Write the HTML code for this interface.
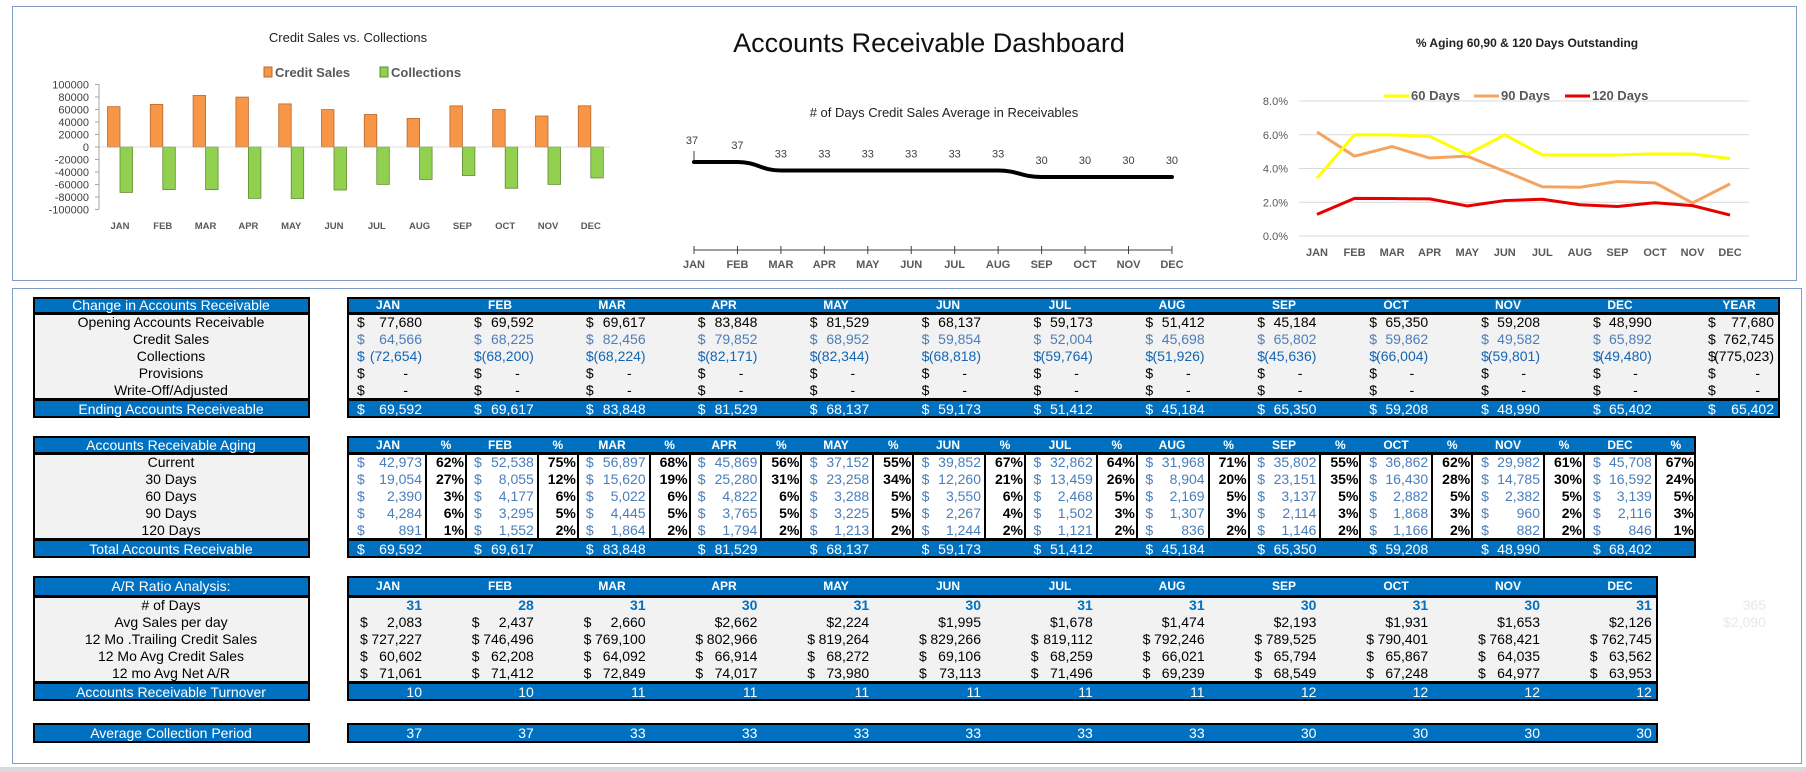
<!DOCTYPE html>
<html><head><meta charset="utf-8">
<style>
html,body{margin:0;padding:0;background:#fff;}
#root{position:relative;width:1806px;height:772px;overflow:hidden;font-family:"Liberation Sans Narrow","Liberation Sans",sans-serif;}
.abs{position:absolute;box-sizing:border-box;}
.t{position:absolute;white-space:nowrap;font-size:14px;line-height:17px;}
svg text{font-family:"Liberation Sans",sans-serif;}
</style></head>
<body>
<div id="root">
<div class="abs" style="left:12px;top:6px;width:1785px;height:275px;border:1.5px solid #7f9cc6;"></div>
<div class="abs" style="left:12px;top:288px;width:1790px;height:476px;border:1.5px solid #7f9cc6;"></div>
<div class="abs" style="left:0;top:767px;width:1806px;height:5px;background:#d9d9d9;"></div>
<svg id="charts" width="1806" height="290" style="position:absolute;left:0;top:0;">
<text x="929" y="52" text-anchor="middle" font-size="27" fill="#111">Accounts Receivable Dashboard</text>
</svg>
<div id="tables"></div>
</div>
<script>
const months=['JAN','FEB','MAR','APR','MAY','JUN','JUL','AUG','SEP','OCT','NOV','DEC'];
const opening=[77680,69592,69617,83848,81529,68137,59173,51412,45184,65350,59208,48990];
const creditSales=[64566,68225,82456,79852,68952,59854,52004,45698,65802,59862,49582,65892];
const collections=[-72654,-68200,-68224,-82171,-82344,-68818,-59764,-51926,-45636,-66004,-59801,-49480];
const endingAR=[69592,69617,83848,81529,68137,59173,51412,45184,65350,59208,48990,65402];
const yearVals=[77680,762745,-775023,65402];
const agCurrent=[42973,52538,56897,45869,37152,39852,32862,31968,35802,36862,29982,45708];
const pcCurrent=[62,75,68,56,55,67,64,71,55,62,61,67];
const ag30=[19054,8055,15620,25280,23258,12260,13459,8904,23151,16430,14785,16592];
const pc30=[27,12,19,31,34,21,26,20,35,28,30,24];
const ag60=[2390,4177,5022,4822,3288,3550,2468,2169,3137,2882,2382,3139];
const pc60=[3,6,6,6,5,6,5,5,5,5,5,5];
const ag90=[4284,3295,4445,3765,3225,2267,1502,1307,2114,1868,960,2116];
const pc90=[6,5,5,5,5,4,3,3,3,3,2,3];
const ag120=[891,1552,1864,1794,1213,1244,1121,836,1146,1166,882,846];
const pc120=[1,2,2,2,2,2,2,2,2,2,2,1];
const agTotal=[69592,69617,83848,81529,68137,59173,51412,45184,65350,59208,48990,68402];
const daysInMonth=[31,28,31,30,31,30,31,31,30,31,30,31];
const avgSalesDay=[2083,2437,2660,2662,2224,1995,1678,1474,2193,1931,1653,2126];
const trailing12=[727227,746496,769100,802966,819264,829266,819112,792246,789525,790401,768421,762745];
const avg12Credit=[60602,62208,64092,66914,68272,69106,68259,66021,65794,65867,64035,63562];
const avgNetAR=[71061,71412,72849,74017,73980,73113,71496,69239,68549,67248,64977,63953];
const turnover=[10,10,11,11,11,11,11,11,12,12,12,12];
const collectionPeriod=[37,37,33,33,33,33,33,33,30,30,30,30];
const pct60=[3.43,6.0,5.99,5.91,4.83,6.0,4.8,4.8,4.8,4.87,4.86,4.59];
const pct90=[6.16,4.73,5.3,4.62,4.73,3.83,2.92,2.89,3.23,3.15,1.96,3.09];
const pct120=[1.28,2.23,2.22,2.2,1.78,2.1,2.18,1.85,1.75,1.97,1.8,1.24];
const yTicks1=[100000,80000,60000,40000,20000,0,-20000,-40000,-60000,-80000,-100000];
const yTicks3=[0,2,4,6,8];

const NS='http://www.w3.org/2000/svg';
const svg=document.getElementById('charts');
function sv(tag,attrs,name){const e=document.createElementNS(NS,tag);for(const k in attrs)e.setAttribute(k,attrs[k]);


svg.appendChild(e);return e;}
function st(x,y,s,attrs,name){const e=sv('text',Object.assign({x:x,y:y},attrs),name);e.textContent=s;return e;}

// ---- Chart 1: Credit Sales vs Collections
const c1x=k=>120+k*42.8, c1y=v=>147-v*62.5/100000;
st(348,42,'Credit Sales vs. Collections',{'text-anchor':'middle','font-size':13,fill:'#222'},'chart1-title');
sv('rect',{x:264,y:67,width:8,height:10,fill:'#F79646',stroke:'#b8682e'},'legend-credit-swatch');
st(275,77,'Credit Sales',{'font-size':13,'font-weight':'bold',fill:'#595959'},'legend-credit-sales');
sv('rect',{x:380,y:67,width:8,height:10,fill:'#92D050',stroke:'#5f8c2f'},'legend-collections-swatch');
st(391,77,'Collections',{'font-size':13,'font-weight':'bold',fill:'#595959'},'legend-collections');
sv('line',{x1:99,y1:c1y(100000),x2:99,y2:c1y(-100000),stroke:'#a6a6a6'},'chart1-y-axis');
yTicks1.forEach(v=>{st(89,c1y(v)+4,String(v),{'text-anchor':'end','font-size':11,fill:'#404040'},'y-tick-label');
sv('line',{x1:95,y1:c1y(v),x2:99,y2:c1y(v),stroke:'#a6a6a6'},'y-tick');});
months.forEach((m,k)=>{const c=c1x(k);
sv('rect',{x:c-12.5,y:c1y(creditSales[k]),width:12.5,height:c1y(0)-c1y(creditSales[k]),fill:'#F79646',stroke:'#b8682e','stroke-width':0.8},'bar-credit-'+m.toLowerCase());
sv('rect',{x:c,y:c1y(0),width:12.5,height:c1y(collections[k])-c1y(0),fill:'#92D050',stroke:'#5f8c2f','stroke-width':0.8},'bar-collections-'+m.toLowerCase());
st(c,229,m,{'text-anchor':'middle','font-size':9.5,'font-weight':'bold',fill:'#595959'},'x-label');});
sv('line',{x1:99,y1:c1y(0),x2:610,y2:c1y(0),stroke:'#bfbfbf','stroke-width':0.6},'chart1-zero-line');

// ---- Chart 2: days line
const c2x=k=>694+k*43.45, c2y=v=>162+(37-v)*2.14;
st(944,117,'# of Days Credit Sales Average in Receivables',{'text-anchor':'middle','font-size':13,fill:'#222'},'chart2-title');
sv('line',{x1:c2x(0),y1:250,x2:c2x(11),y2:250,stroke:'#404040','stroke-width':1},'chart2-x-axis');
let d='M'+c2x(0)+','+c2y(collectionPeriod[0]);
months.forEach((m,k)=>{
sv('line',{x1:c2x(k),y1:246,x2:c2x(k),y2:254,stroke:'#404040'},'x-tick');
st(c2x(k),268,m,{'text-anchor':'middle','font-size':11,'font-weight':'bold',fill:'#595959'},'x-label');
const ly=c2y(collectionPeriod[k])-13-(k===0?5:0);
st(c2x(k)+(k===0?-2:0),ly,String(collectionPeriod[k]),{'text-anchor':'middle','font-size':11,fill:'#404040'},'data-label');
if(k>0){const x0=c2x(k-1),x1=c2x(k),y0=c2y(collectionPeriod[k-1]),y1=c2y(collectionPeriod[k]);
d+=' C'+(x0+(x1-x0)/2.2)+','+y0+' '+(x1-(x1-x0)/2.2)+','+y1+' '+x1+','+y1;}});
sv('line',{x1:c2x(0),y1:c2y(collectionPeriod[0])-11,x2:c2x(0),y2:c2y(collectionPeriod[0]),stroke:'#404040'},'label-leader');
sv('path',{d:d,fill:'none',stroke:'#000','stroke-width':4,'stroke-linecap':'round'},'days-line');

// ---- Chart 3: aging %
const c3x=k=>1317+k*37.55, c3y=p=>236-p*135/8;
st(1527,47,'% Aging 60,90 & 120 Days Outstanding',{'text-anchor':'middle','font-size':12,'font-weight':'bold',fill:'#222'},'chart3-title');
yTicks3.forEach(p=>{sv('line',{x1:1299,y1:c3y(p),x2:1749,y2:c3y(p),stroke:'#d9d9d9'},'gridline');
st(1288,c3y(p)+4,p.toFixed(1)+'%',{'text-anchor':'end','font-size':11,fill:'#595959'},'y-tick-label');});
months.forEach((m,k)=>st(c3x(k),256,m,{'text-anchor':'middle','font-size':11,'font-weight':'bold',fill:'#595959'},'x-label'));
function series(arr,col,name){sv('polyline',{points:arr.map((p,k)=>c3x(k)+','+c3y(p)).join(' '),fill:'none',stroke:col,'stroke-width':3,'stroke-linejoin':'round'},name);}
series(pct90,'#F4A460','line-90-days');
series(pct60,'#FFFF00','line-60-days');
series(pct120,'#E80000','line-120-days');
[[1384,'#FFFF00','60 Days','legend-60-days'],[1474,'#F4A460','90 Days','legend-90-days'],[1565,'#E80000','120 Days','legend-120-days']].forEach(a=>{
sv('line',{x1:a[0],y1:96,x2:a[0]+25,y2:96,stroke:a[1],'stroke-width':3},a[3]+'-line');
st(a[0]+27,100,a[2],{'font-size':13,'font-weight':'bold',fill:'#595959'},a[3]);});

// ---- Tables
const root=document.getElementById('tables');
function box(x,y,w,h,bg,name){const e=document.createElement('div');e.className='abs';
e.style.cssText='left:'+x+'px;top:'+y+'px;width:'+w+'px;height:'+h+'px;background:'+bg+';border:2px solid #000;';


root.appendChild(e);return e;}
function vline(x,y,h,name){const e=document.createElement('div');e.className='abs';
e.style.cssText='left:'+x+'px;top:'+y+'px;width:2px;height:'+h+'px;background:#000;';


root.appendChild(e);}
function txt(s,x,yc,align,color,name,bold,size){const e=document.createElement('div');e.className='t';e.textContent=s;
e.style.top=(yc-8.5)+'px';e.style.color=color;if(bold)e.style.fontWeight='bold';if(size)e.style.fontSize=size+'px';
if(align==='r'){e.style.right=(1806-x)+'px';}else if(align==='c'){e.style.left=(x-100)+'px';e.style.width='200px';e.style.textAlign='center';}else{e.style.left=x+'px';}


root.appendChild(e);}
const fmt=n=>{const s=Math.abs(n).toLocaleString('en-US');return n<0?'('+s+')':s;};
const xd=k=>k===0?357:474+(k-1)*111.9, xr=k=>422+k*111.8, hc=k=>388+k*112;
const RH=17.2;

// Table 1
box(33,297,277,17,'#0070C0','change-ar-header');
box(33,313,277,87,'#F2F2F2','change-ar-labels');
box(33,399,277,19,'#0070C0','ending-ar-label-bar');
box(347,297,1433,17,'#0070C0','change-ar-month-header');
box(347,313,1433,87,'#F2F2F2','change-ar-values');
box(347,399,1433,19,'#0070C0','ending-ar-values-bar');
txt('Change in Accounts Receivable',171,305,'c','#fff','change-ar-title');
txt('Ending Accounts Receiveable',171,409,'c','#fff','ending-ar-label');
months.forEach((m,k)=>txt(m,hc(k),305.5,'c','#fff','month-header',true,12));
txt('YEAR',1739,305.5,'c','#fff','year-header',true,12);
const t1rows=[['Opening Accounts Receivable',opening,'#000'],['Credit Sales',creditSales,'#4A7EBB'],['Collections',collections,'#1565B0'],['Provisions',null,'#000'],['Write-Off/Adjusted',null,'#000']];
t1rows.forEach((r,i)=>{const yc=322+i*RH;txt(r[0],171,yc,'c','#000','row-label');
for(let k=0;k<13;k++){const dx=k<12?xd(k):1708,rx=k<12?xr(k):1774;
const col=k<12?r[2]:'#000';
txt('$',dx,yc,'l',col,'dollar-sign');
if(r[1])txt(fmt(k<12?r[1][k]:yearVals[i]),rx,yc,'r',col,'row-value');else txt('-',rx-14,yc,'r','#000','row-value');}});
for(let k=0;k<13;k++){txt('$',k<12?xd(k):1708,409,'l','#fff','dollar-sign');txt(fmt(k<12?endingAR[k]:yearVals[3]),k<12?xr(k):1774,409,'r','#fff','ending-value');}

// Table 2
box(33,436,277,18,'#0070C0','aging-header');
box(33,453,277,87,'#F2F2F2','aging-labels');
box(33,539,277,19,'#0070C0','aging-total-label-bar');
box(347,436,1349,18,'#0070C0','aging-month-header');
box(347,453,1349,87,'#fff','aging-values');
box(347,539,1349,19,'#0070C0','aging-total-values-bar');
txt('Accounts Receivable Aging',171,445,'c','#fff','aging-title');
txt('Total Accounts Receivable',171,549,'c','#fff','aging-total-label');
months.forEach((m,k)=>{txt(m,hc(k),445,'c','#fff','month-header',true,12);txt('%',xr(k)+24,445,'c','#fff','pct-header',true,12);
vline(xr(k)+3,453,87,'divider');if(k<11)vline(xr(k)+43,453,87,'divider');});
const t2rows=[['Current',agCurrent,pcCurrent],['30 Days',ag30,pc30],['60 Days',ag60,pc60],['90 Days',ag90,pc90],['120 Days',ag120,pc120]];
t2rows.forEach((r,i)=>{const yc=462+i*RH;txt(r[0],171,yc,'c','#000','row-label');
months.forEach((m,k)=>{txt('$',xd(k),yc,'l','#4A7EBB','dollar-sign');txt(fmt(r[1][k]),xr(k),yc,'r','#4A7EBB','aging-value');txt(r[2][k]+'%',xr(k)+42,yc,'r','#000','aging-pct',true);});});
months.forEach((m,k)=>{txt('$',xd(k),549,'l','#fff','dollar-sign');txt(fmt(agTotal[k]),xr(k),549,'r','#fff','aging-total');});

// Table 3
box(33,576,277,21,'#0070C0','ratio-header');
box(33,596,277,87,'#F2F2F2','ratio-labels');
box(33,682,277,19,'#0070C0','turnover-label-bar');
box(347,576,1311,21,'#0070C0','ratio-month-header');
box(347,596,1311,87,'#F2F2F2','ratio-values');
box(347,682,1311,19,'#0070C0','turnover-values-bar');
txt('A/R Ratio Analysis:',171,586,'c','#fff','ratio-title');
txt('Accounts Receivable Turnover',171,692,'c','#fff','turnover-label');
months.forEach((m,k)=>txt(m,hc(k),586.5,'c','#fff','month-header',true,12));
txt('# of Days',171,605,'c','#000','row-label');
months.forEach((m,k)=>txt(String(daysInMonth[k]),xr(k),605,'r','#0070C0','days-value',true));
txt('365',1766,605,'r','#e8e8e8','year-days-ghost');
txt('Avg Sales per day',171,622,'c','#000','row-label');
months.forEach((m,k)=>{if(k<3){txt('$',xr(k)-62,622,'l','#000','dollar-sign');txt(fmt(avgSalesDay[k]),xr(k),622,'r','#000','avg-sales-value');}
else txt('$'+fmt(avgSalesDay[k]),xr(k),622,'r','#000','avg-sales-value');});
txt('$2,090',1766,622,'r','#e8e8e8','year-avg-ghost');
[['12 Mo .Trailing Credit Sales',trailing12],['12 Mo Avg Credit Sales',avg12Credit],['12 mo Avg Net A/R',avgNetAR]].forEach((r,i)=>{const yc=639+i*RH;
txt(r[0],171,yc,'c','#000','row-label');
months.forEach((m,k)=>{txt('$',xr(k)-62,yc,'l','#000','dollar-sign');txt(fmt(r[1][k]),xr(k),yc,'r','#000','ratio-value');});});
months.forEach((m,k)=>txt(String(turnover[k]),xr(k),692,'r','#fff','turnover-value'));

// Table 4
box(33,723,277,20,'#0070C0','acp-label-bar');
box(347,723,1311,20,'#0070C0','acp-values-bar');
txt('Average Collection Period',171,733,'c','#fff','acp-label');
months.forEach((m,k)=>txt(String(collectionPeriod[k]),xr(k),733,'r','#fff','acp-value'));
</script>
</body></html>
